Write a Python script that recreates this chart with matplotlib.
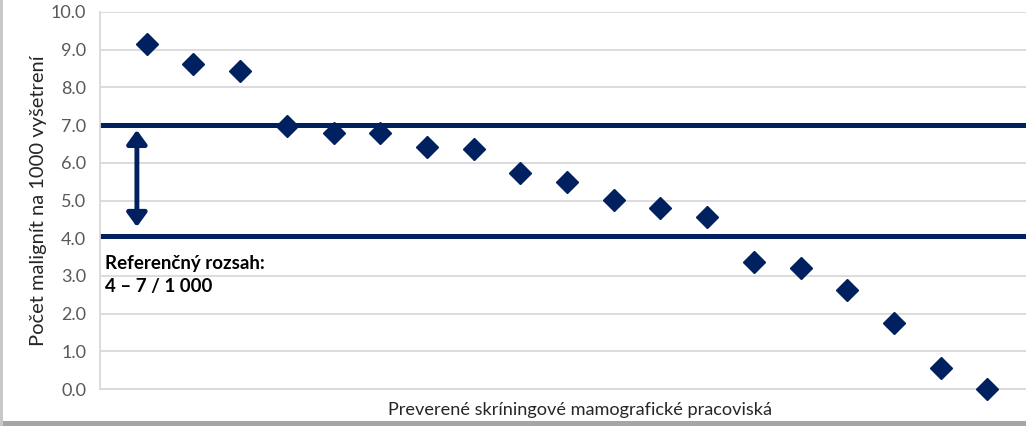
import matplotlib
matplotlib.use("Agg")
import matplotlib.pyplot as plt
from matplotlib.patches import Rectangle

# Data
pracoviska = list(range(1, 20))
malignity = [9.15, 8.62, 8.43, 6.98, 6.79, 6.79, 6.42, 6.37, 5.73, 5.49,
             5.01, 4.80, 4.55, 3.37, 3.21, 2.63, 1.75, 0.57, 0.0]
ref_horna = 7.0
ref_dolna = 4.05
y_ticks = [0.0, 1.0, 2.0, 3.0, 4.0, 5.0, 6.0, 7.0, 8.0, 9.0, 10.0]

navy = '#002060'
plt.rcParams['font.family'] = ['Lato', 'DejaVu Sans']

fig = plt.figure(figsize=(10.26, 4.26), dpi=100)
# axes reaches past the right edge like in the cropped original
ax = fig.add_axes([100 / 1026, (426 - 389) / 426, 934 / 1026, 377 / 426])

ax.set_xlim(0, 20)
ax.set_ylim(0, 10)
ax.set_yticks(y_ticks)
ax.set_yticklabels(['%.1f' % v for v in y_ticks])
ax.set_xticks([])
ax.grid(axis='y', color='#d9d9d9', linewidth=1.3)
ax.set_axisbelow(True)
for s in ['top', 'right']:
    ax.spines[s].set_visible(False)
ax.spines['left'].set_color('#d9d9d9')
ax.spines['bottom'].set_color('#d9d9d9')
ax.spines['left'].set_linewidth(1.3)
ax.spines['bottom'].set_linewidth(1.3)
ax.tick_params(axis='y', length=0, labelsize=13, labelcolor='#595959', pad=10)

# referenčné hranice
ax.axhline(ref_horna, color=navy, linewidth=3.6, zorder=2)
ax.axhline(ref_dolna, color=navy, linewidth=3.6, zorder=2)

ax.annotate('', xy=(0.79, ref_dolna + 0.25), xytext=(0.79, ref_horna - 0.13),
            arrowprops=dict(arrowstyle='<|-|>,head_length=0.55,head_width=0.4',
                            color=navy, lw=3.5, mutation_scale=15,
                            shrinkA=0, shrinkB=0))

ax.plot(pracoviska, malignity, linestyle='none', marker='D', markersize=11,
        color=navy, zorder=3, clip_on=False)

ax.text(0.1, 3.02, 'Referenčný rozsah:\n4 – 7 / 1 000', fontsize=13.5,
        fontweight='bold', color='black', va='center', ha='left',
        linespacing=1.45)

ax.set_ylabel('Počet malignít na 1000 vyšetrení', fontsize=14.5, color='#262626',
              labelpad=3)
fig.text(580 / 1026, 1 - 410 / 426, 'Preverené skríningové mamografické pracoviská',
         fontsize=13.1, color='#262626', ha='center', va='center')

# šedý okraj ako na výreze
fig.patches.append(Rectangle((0, 0), 1, 5 / 426, transform=fig.transFigure,
                             facecolor='#a6a6a6', edgecolor='none'))
fig.patches.append(Rectangle((0, 0), 3 / 1026, 1, transform=fig.transFigure,
                             facecolor='#c8c8c8', edgecolor='none'))

fig.savefig('out.png', dpi=100)
